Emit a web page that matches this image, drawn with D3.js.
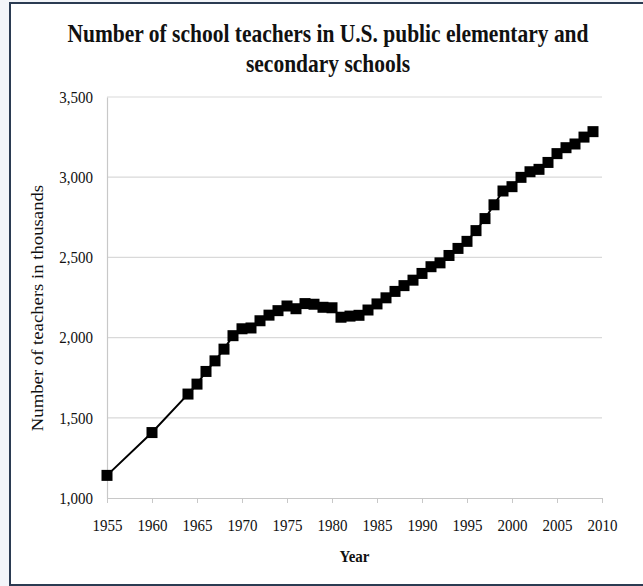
<!DOCTYPE html>
<html>
<head>
<meta charset="utf-8">
<script src="https://cdn.jsdelivr.net/npm/d3@7"></script>
<style>
  body { margin: 0; background: #f3f5f9; }
  svg { display: block; }
  text { font-family: "Liberation Serif", "Times New Roman", serif; fill: #111; }
</style>
</head>
<body>
<div class="chart-wrapper"></div>
<script>
const years = [1955, 1960, 1964, 1965, 1966, 1967, 1968, 1969, 1970, 1971, 1972, 1973, 1974,
  1975, 1976, 1977, 1978, 1979, 1980, 1981, 1982, 1983, 1984, 1985, 1986, 1987, 1988, 1989,
  1990, 1991, 1992, 1993, 1994, 1995, 1996, 1997, 1998, 1999, 2000, 2001, 2002, 2003, 2004,
  2005, 2006, 2007, 2008, 2009];
const teachers = [1141, 1408, 1648, 1710, 1789, 1855, 1928, 2012, 2055, 2060, 2105, 2140, 2168,
  2197, 2180, 2212, 2208, 2189, 2186, 2127, 2134, 2139, 2172, 2210, 2248, 2288, 2324, 2358,
  2400, 2442, 2466, 2512, 2556, 2600, 2667, 2742, 2828, 2914, 2941, 2999, 3034, 3049, 3092,
  3147, 3184, 3207, 3250, 3284];
const xTicks = [1955, 1960, 1965, 1970, 1975, 1980, 1985, 1990, 1995, 2000, 2005, 2010];
const yTicks = [1000, 1500, 2000, 2500, 3000, 3500];
const titleLines = ['Number of school teachers in U.S. public elementary and', 'secondary schools'];

const data = years.map((y, i) => ({year: y, value: teachers[i]}));

const width = 643, height = 586;
const margin = {top: 97, right: 41, bottom: 88, left: 107};
// the source picture is stretched vertically, text looks tall and narrow
const stretch = 1.17;

const svg = d3.select('.chart-wrapper')
  .append('svg')
  .attr('width', width)
  .attr('height', height);

// frame
svg.append('rect')
  .attr('x', 10).attr('y', 3)
  .attr('width', 660).attr('height', 582)
  .attr('fill', '#fff')
  .attr('stroke', '#2b3b52')
  .attr('stroke-width', 2);

const x = d3.scaleLinear()
  .domain([1955, 2010])
  .range([margin.left, width - margin.right]);

const y = d3.scaleLinear()
  .domain([1000, 3500])
  .range([height - margin.bottom, margin.top]);

// gridlines
svg.append('g')
  .selectAll('line')
  .data(yTicks.slice(1))
  .enter()
  .append('line')
  .attr('x1', x(1955)).attr('x2', x(2010))
  .attr('y1', d => y(d)).attr('y2', d => y(d))
  .attr('stroke', '#d9d9d9')
  .attr('stroke-width', 1.2);

// y axis
const yAxis = svg.append('g')
  .attr('transform', `translate(${x(1955)},0)`)
  .call(d3.axisLeft(y).tickValues(yTicks).tickSize(0).tickPadding(14).tickFormat(d3.format(',')));
yAxis.select('.domain').attr('stroke', '#c8c8c8').attr('stroke-width', 1.2);
yAxis.selectAll('text')
  .style('font-size', '15px')
  .style('font-family', '"Liberation Serif", serif')
  .attr('fill', '#333')
  .attr('dy', '0.3em')
  .attr('transform', `scale(1,${stretch})`);

// x axis
const xAxis = svg.append('g')
  .attr('transform', `translate(0,${y(1000)})`)
  .call(d3.axisBottom(x).tickValues(xTicks).tickSize(5).tickSizeOuter(0).tickFormat(d3.format('d')));
xAxis.select('.domain').attr('stroke', '#c8c8c8').attr('stroke-width', 1.2);
xAxis.selectAll('.tick line').attr('stroke', '#c8c8c8');
xAxis.selectAll('text')
  .style('font-size', '15px')
  .style('font-family', '"Liberation Serif", serif')
  .attr('fill', '#333')
  .attr('y', 0).attr('dy', null)
  .attr('transform', `translate(0,33) scale(1,${stretch})`);

// line
const line = d3.line()
  .x(d => x(d.year))
  .y(d => y(d.value));

svg.append('path')
  .datum(data)
  .attr('d', line)
  .attr('fill', 'none')
  .attr('stroke', '#000')
  .attr('stroke-width', 2);

// markers
const s = 11;
svg.append('g')
  .selectAll('rect')
  .data(data)
  .enter()
  .append('rect')
  .attr('x', d => x(d.year) - s / 2)
  .attr('y', d => y(d.value) - s / 2)
  .attr('width', s).attr('height', s)
  .attr('fill', '#000');

// title
svg.append('g')
  .selectAll('text')
  .data(titleLines)
  .enter()
  .append('text')
  .attr('transform', (d, i) => `translate(328,${42 + i * 30}) scale(1,${stretch})`)
  .attr('text-anchor', 'middle')
  .style('font-size', '21.5px')
  .style('font-weight', 'bold')
  .text(d => d);

// axis titles
svg.append('text')
  .attr('transform', `translate(${(x(1955) + x(2010)) / 2},562) scale(1,${stretch})`)
  .attr('text-anchor', 'middle')
  .style('font-size', '15px')
  .style('font-weight', 'bold')
  .text('Year');

svg.append('text')
  .attr('transform', `translate(43,308) rotate(-90) scale(${stretch},1)`)
  .attr('text-anchor', 'middle')
  .attr('fill', '#333')
  .style('font-size', '16px')
  .text('Number of teachers in thousands');
</script>
</body>
</html>
